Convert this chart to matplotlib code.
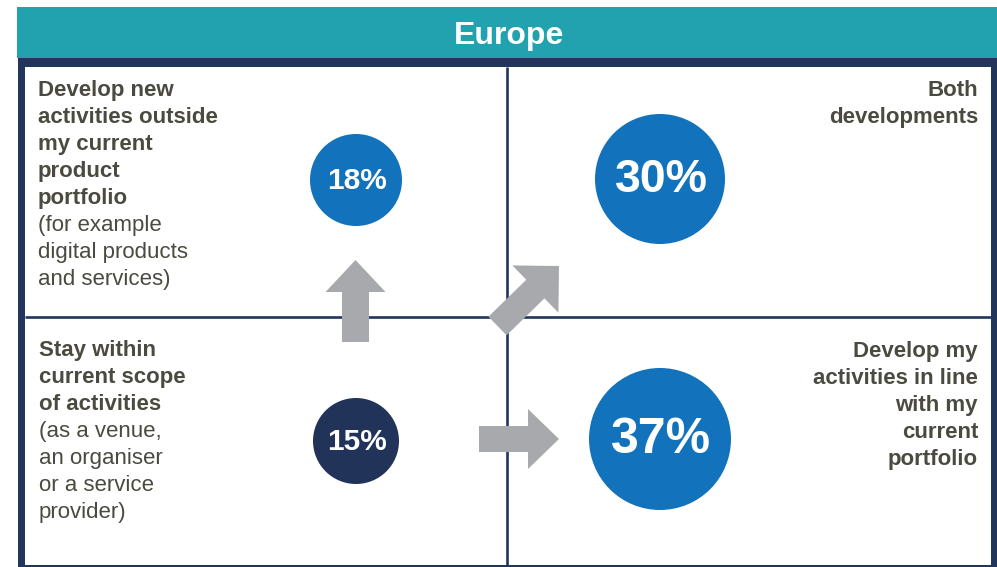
import numpy as np
import matplotlib
matplotlib.use("Agg")
import matplotlib.pyplot as plt
from matplotlib.patches import Rectangle, Circle, Polygon

# ---------------- data ----------------
region = "Europe"
quadrant_names = ["Develop new activities", "Both developments",
                  "Stay within current scope", "Develop in line with portfolio"]
shares = [18, 30, 15, 37]  # percent of respondents
title_lines = [
    ["Develop new", "activities outside", "my current", "product", "portfolio"],
    ["Both", "developments"],
    ["Stay within", "current scope", "of activities"],
    ["Develop my", "activities in line", "with my", "current", "portfolio"],
]
note_lines = [
    ["(for example", "digital products", "and services)"],
    [],
    ["(as a venue,", "an organiser", "or a service", "provider)"],
    [],
]

# ---------------- style / layout ----------------
W, H = 997, 567
TEAL = "#22A1AE"
NAVY = "#22355A"
BLUE = "#1273BC"
DARK = "#22335A"
GREY = "#A8A9AC"
TXT = "#4A4A40"
FONT = "Liberation Sans"

circle_fill = [BLUE, BLUE, DARK, BLUE]
circle_xy = [(356, 180), (660, 179), (356, 441), (660, 439)]
circle_r = [46, 65, 43, 71]
label_size = [21.5, 33.5, 21.5, 36]
text_anchor = [(38, 'left', 96), (978, 'right', 96), (39, 'left', 356), (978, 'right', 357)]
line_step = 27

fig = plt.figure(figsize=(W / 100, H / 100), dpi=100)
ax = fig.add_axes([0, 0, 1, 1])
ax.set_xlim(0, W)
ax.set_ylim(H, 0)
ax.axis("off")

# frame
ax.add_patch(Rectangle((18, 58), W - 18, H - 58, facecolor=NAVY, edgecolor="none", zorder=1))
ax.add_patch(Rectangle((25, 67), 991 - 25, 565 - 67, facecolor="white", edgecolor="none", zorder=2))
ax.add_patch(Rectangle((17, 7), W - 17, 51, facecolor=TEAL, edgecolor="none", zorder=3))
ax.text(509, 44, region, color="white", fontsize=23, fontweight="bold",
        family=FONT, ha="center", va="baseline", zorder=4)

# dividers
ax.plot([507, 507], [67, 565], color=NAVY, lw=1.9, solid_capstyle="butt", zorder=3)
ax.plot([25, 991], [317, 317], color=NAVY, lw=1.9, solid_capstyle="butt", zorder=3)


def arrow(tail, tip, stem_w, head_w, head_l):
    tail = np.array(tail, float)
    tip = np.array(tip, float)
    d = tip - tail
    L = np.hypot(*d)
    u = d / L
    n = np.array([-u[1], u[0]])
    base = tip - u * head_l
    pts = [tail + n * stem_w / 2, base + n * stem_w / 2, base + n * head_w / 2, tip,
           base - n * head_w / 2, base - n * stem_w / 2, tail - n * stem_w / 2]
    ax.add_patch(Polygon(pts, closed=True, facecolor=GREY, edgecolor="none", zorder=5))


arrow((355.5, 342), (355.5, 260), 27, 60, 32)
arrow((479, 439), (559, 439), 26, 60, 31)
arrow((497.5, 326), (559, 266), 26, 66, 33)

# circles with values
for (cx, cy), r, c, v, fs in zip(circle_xy, circle_r, circle_fill, shares, label_size):
    ax.add_patch(Circle((cx, cy), r, facecolor=c, edgecolor="none", zorder=6))
    ax.text(cx + 1, cy + 1, f"{v}%", color="white", fontsize=fs, fontweight="bold",
            family=FONT, ha="center", va="center", zorder=7)

# quadrant texts
for (x, ha, y0), bold, normal in zip(text_anchor, title_lines, note_lines):
    y = y0
    for line in bold:
        ax.text(x, y, line, color=TXT, fontsize=16, fontweight="bold", family=FONT,
                ha=ha, va="baseline", zorder=4)
        y += line_step
    for line in normal:
        ax.text(x, y, line, color=TXT, fontsize=16, family=FONT,
                ha=ha, va="baseline", zorder=4)
        y += line_step

fig.savefig("out.png", dpi=100, facecolor="white")
